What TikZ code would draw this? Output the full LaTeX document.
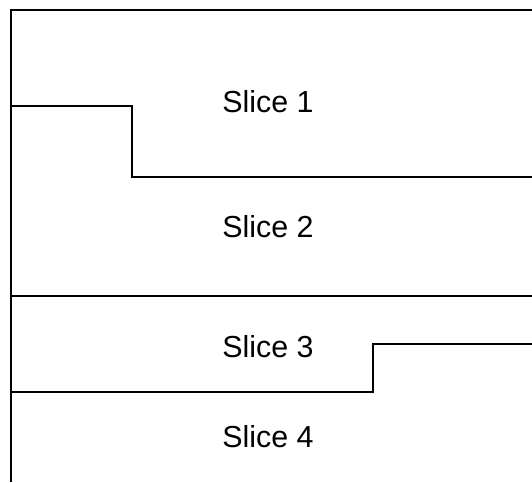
\documentclass[tikz,border=0pt]{standalone}
\usepackage{fontspec}
\setmainfont{Liberation Sans}
\begin{document}
\begin{tikzpicture}[x=0.5pt,y=-0.5pt,
  edge/.style={line width=1.1pt,line join=miter},
  lbl/.style={anchor=base,inner sep=0pt,font=\fontsize{15.2pt}{17pt}\selectfont}]
\useasboundingbox (0,0) rectangle (532,483);
% frame
\coordinate (tl) at (11,10);
\coordinate (tr) at (532,10);
\coordinate (bl) at (11,482);
\draw[edge] (tr) -- (tl) -- (bl);
% boundary 1/2
\coordinate (a1) at (11,106);
\coordinate (a2) at (132,106);
\coordinate (a3) at (132,177);
\coordinate (a4) at (532,177);
\draw[edge] (a1) -- (a2) -- (a3) -- (a4);
% boundary 2/3
\coordinate (b1) at (11,296);
\coordinate (b2) at (532,296);
\draw[edge] (b1) -- (b2);
% boundary 3/4
\coordinate (c1) at (11,392);
\coordinate (c2) at (373,392);
\coordinate (c3) at (373,344);
\coordinate (c4) at (532,344);
\draw[edge] (c1) -- (c2) -- (c3) -- (c4);
% labels
\node[lbl] (s1) at (268,112) {Slice 1};
\node[lbl] (s2) at (268,237) {Slice 2};
\node[lbl] (s3) at (268,357) {Slice 3};
\node[lbl] (s4) at (268,447) {Slice 4};
\end{tikzpicture}
\end{document}
